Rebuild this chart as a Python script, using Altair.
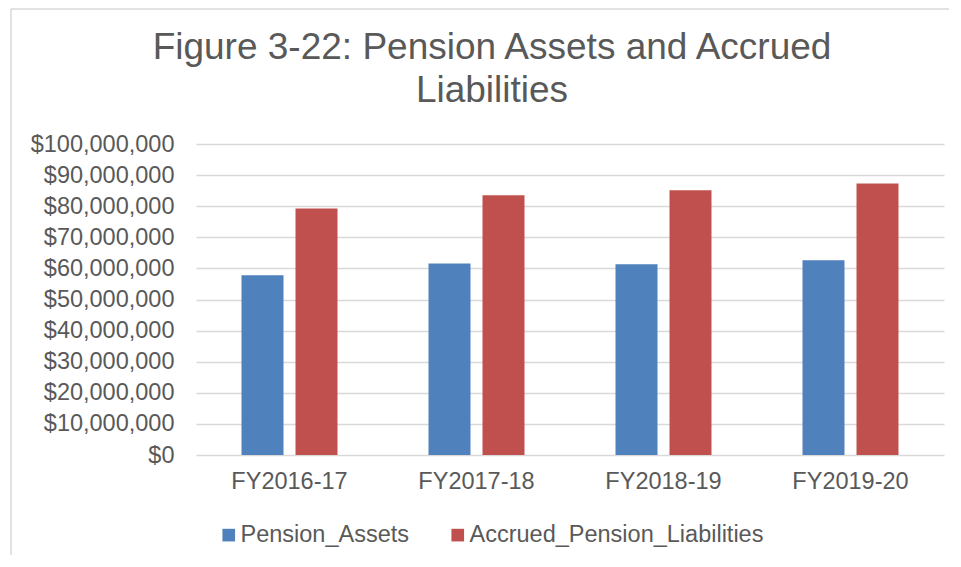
import altair as alt
import pandas as pd

categories = ["FY2016-17", "FY2017-18", "FY2018-19", "FY2019-20"]
series_names = ["Pension_Assets", "Accrued_Pension_Liabilities"]
pension_assets = [57800000, 61600000, 61300000, 62600000]
accrued_liabilities = [79300000, 83500000, 85100000, 87300000]
y_ticks = [0, 10000000, 20000000, 30000000, 40000000, 50000000,
           60000000, 70000000, 80000000, 90000000, 100000000]

rows = []
for c, a, l in zip(categories, pension_assets, accrued_liabilities):
    rows.append({"Year": c, "Series": series_names[0], "Value": a})
    rows.append({"Year": c, "Series": series_names[1], "Value": l})
df = pd.DataFrame(rows)

FONT = "Liberation Sans"
TXT = "#595959"
GRID = "#d9d9d9"

bars = alt.Chart(df).mark_bar().encode(
    x=alt.X("Year:N", sort=categories, title=None,
            scale=alt.Scale(paddingInner=0, paddingOuter=0),
            axis=alt.Axis(labelAngle=0, ticks=False, domain=False,
                          labelPadding=14, labelFontSize=23.5, labelFont=FONT,
                          labelColor=TXT)),
    xOffset=alt.XOffset("Series:N", sort=series_names,
                        scale=alt.Scale(paddingInner=0.2222, paddingOuter=0.843)),
    y=alt.Y("Value:Q", title=None,
            scale=alt.Scale(domain=[0, 100000000], nice=False),
            axis=alt.Axis(values=y_ticks, format="$,.0f", grid=True,
                          gridColor=GRID, gridWidth=1.3, domain=False,
                          ticks=False, labelPadding=22, labelFontSize=23.5,
                          labelFont=FONT, labelColor=TXT)),
    color=alt.Color("Series:N", sort=series_names,
                    scale=alt.Scale(domain=series_names,
                                    range=["#4F81BD", "#C0504D"]),
                    legend=alt.Legend(title=None, orient="none",
                                      direction="horizontal",
                                      legendX=21, legendY=379,
                                      symbolType="square", symbolSize=160,
                                      symbolStrokeWidth=0,
                                      labelFontSize=23.5, labelFont=FONT,
                                      labelColor=TXT, labelOffset=0,
                                      labelLimit=0,
                                      columnPadding=36, padding=0)),
)

frame_data = alt.Data(values=[{"k": 1}])
left_border = alt.Chart(frame_data).mark_rule(color=GRID, strokeWidth=1.5).encode(
    x=alt.value(-185), y=alt.value(-135), y2=alt.value(415))
top_border = alt.Chart(frame_data).mark_rule(color=GRID, strokeWidth=1.5).encode(
    x=alt.value(-185), x2=alt.value(760), y=alt.value(-135))

chart = alt.layer(bars, left_border, top_border).properties(
    width=748,
    height=311,
    padding={"left": 188, "top": 136, "right": 5, "bottom": 100},
    autosize=alt.AutoSizeParams(type="none"),
    title=alt.TitleParams(
        text=["Figure 3-22: Pension Assets and Accrued", "Liabilities"],
        fontSize=37, font=FONT, color=TXT, fontWeight="normal",
        lineHeight=43, anchor="middle", dx=-78, offset=-102),
).configure_view(stroke=None)

chart.save("out.html", embed_options={"renderer": "svg", "actions": False})
